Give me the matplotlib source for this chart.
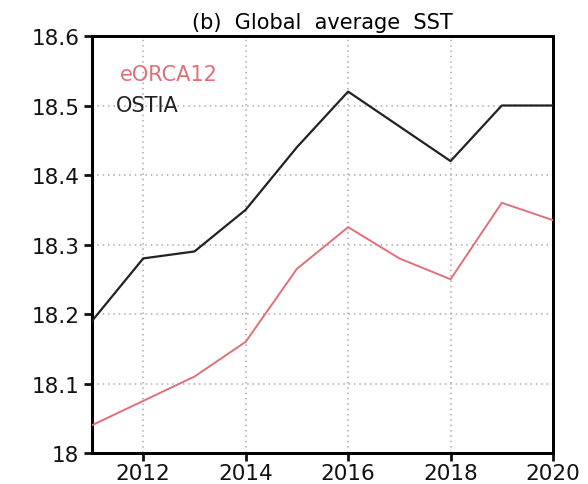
import matplotlib
matplotlib.use("Agg")
import matplotlib.pyplot as plt

# Annual global-mean sea surface temperature (degC)
years = [2011, 2012, 2013, 2014, 2015, 2016, 2017, 2018, 2019, 2020]
ostia = [18.19, 18.28, 18.29, 18.35, 18.44, 18.52, 18.47, 18.42, 18.50, 18.50]
eorca12 = [18.04, 18.075, 18.11, 18.16, 18.265, 18.325, 18.28, 18.25, 18.36, 18.335]

xticks = [2012, 2014, 2016, 2018, 2020]
yticks = [18.0, 18.1, 18.2, 18.3, 18.4, 18.5, 18.6]
ytick_labels = ["18", "18.1", "18.2", "18.3", "18.4", "18.5", "18.6"]

RED = "#e07078"

fig = plt.figure(figsize=(5.88, 4.85), dpi=100)
ax = fig.add_axes([0.1565, 0.0639, 0.784, 0.8598])

ax.plot(years, ostia, color="#222222", lw=1.6, zorder=3)
ax.plot(years, eorca12, color=RED, lw=1.4, zorder=3)

ax.set_xlim(2011, 2020)
ax.set_ylim(18.0, 18.6)
ax.set_xticks(xticks)
ax.set_yticks(yticks)
ax.set_yticklabels(ytick_labels)

ax.grid(True, color="#aaaaaa", linestyle=(0, (1, 2.5)), linewidth=1.1, zorder=1)

# solid left axis, dashed frame on the other three sides
ax.spines["left"].set_linewidth(2.2)
for side in ("top", "right", "bottom"):
    ax.spines[side].set_linewidth(2.0)
    ax.spines[side].set_linestyle((0, (1.5, 1.2)))
    ax.spines[side].set_antialiased(False)

ax.tick_params(axis="both", direction="out", length=6, width=2.0,
               labelsize=15.5, colors="#111111", pad=3)
ax.tick_params(axis="x", pad=1)

ax.text(0.06, 0.909, "eORCA12", transform=ax.transAxes, color=RED,
        fontsize=15, ha="left", va="center")
ax.text(0.052, 0.835, "OSTIA", transform=ax.transAxes, color="#222222",
        fontsize=15, ha="left", va="center")

ax.set_title("(b)  Global  average  SST", fontsize=15, pad=6)

fig.savefig("out.png", dpi=100, facecolor="white")
